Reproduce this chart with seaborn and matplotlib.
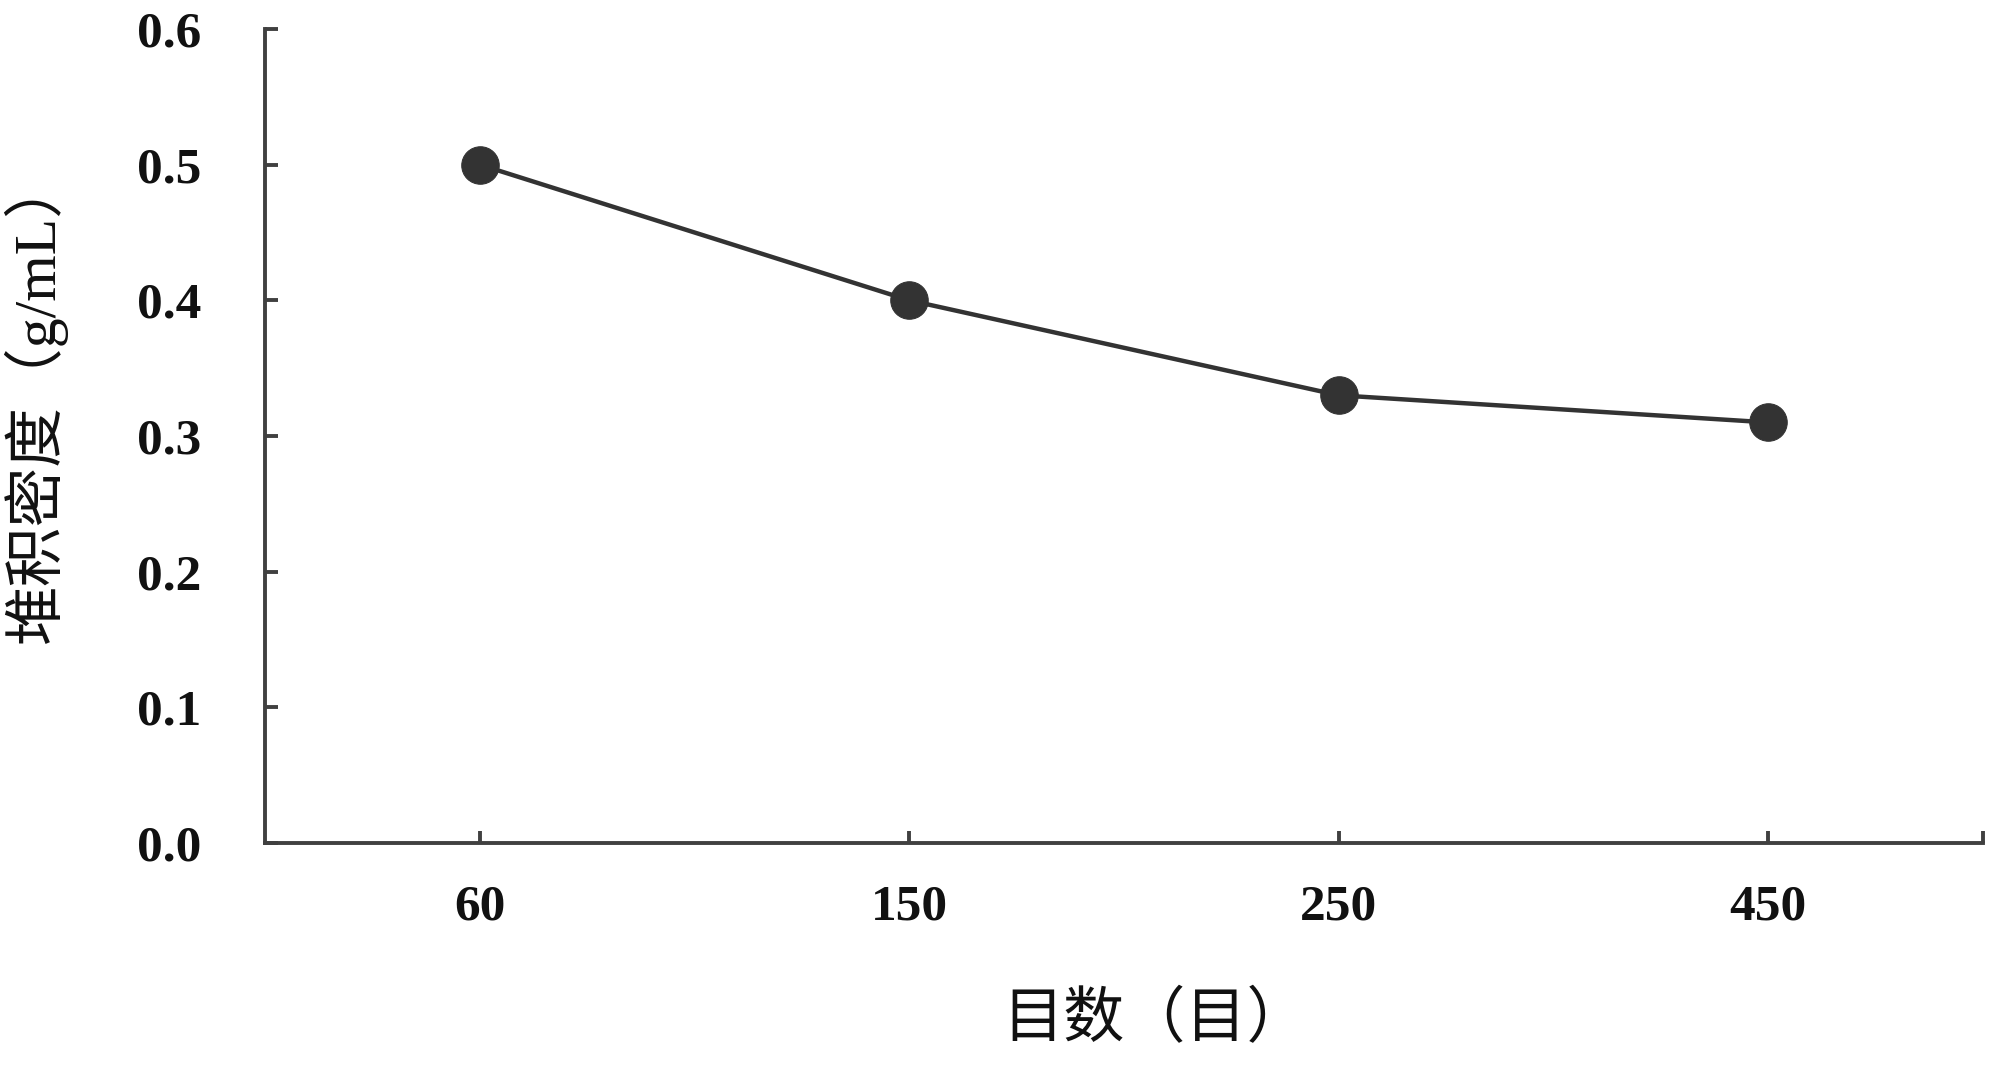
import pandas as pd
import matplotlib
matplotlib.use("Agg")
import matplotlib.pyplot as plt
import seaborn as sns

# data
mesh = ["60", "150", "250", "450"]
density = [0.50, 0.40, 0.33, 0.31]

y_ticks = [0.0, 0.1, 0.2, 0.3, 0.4, 0.5, 0.6]

sns.set_style("ticks")
plt.rcParams['font.family'] = ['Liberation Serif', 'Noto Sans CJK SC']

df = pd.DataFrame({"pos": range(len(mesh)), "density": density})

fig = plt.figure(figsize=(20, 10.69), dpi=100)
ax = fig.add_axes([0.1325, 0.2114, 0.859, 0.7615])

ink = "#333333"
sns.lineplot(data=df, x="pos", y="density", ax=ax, color=ink, linewidth=3.2,
             marker="o", markersize=27, markeredgecolor=ink, markerfacecolor=ink)

ax.set_xlim(-0.5, 3.5)
ax.set_ylim(0, 0.6)

ax.set_xticks(list(range(len(mesh))) + [3.5])
ax.set_xticklabels(mesh + [""])
ax.set_yticks(y_ticks)
ax.set_yticklabels([f"{v:.1f}" for v in y_ticks])

for lab in ax.get_xticklabels() + ax.get_yticklabels():
    lab.set_fontweight("bold")
    lab.set_fontsize(37)
    lab.set_color("#111111")

ax.tick_params(axis="both", direction="in", length=9, width=2.8, color="#404040")
ax.tick_params(axis="x", pad=30)
ax.tick_params(axis="y", pad=46)

sns.despine(ax=ax)
for s in ["left", "bottom"]:
    ax.spines[s].set_linewidth(2.8)
    ax.spines[s].set_color("#404040")

ax.set_xlabel("目数（目）", fontsize=44, color="#111111",
              family=['Noto Sans CJK SC'])
ax.set_ylabel("堆积密度（g/mL）", fontsize=43, color="#111111",
              family=['Liberation Serif', 'Noto Sans CJK SC'])
ax.xaxis.label.set_va("center")
ax.yaxis.label.set_va("center")
ax.xaxis.set_label_coords(0.518, -0.217)
ax.yaxis.set_label_coords(-0.134, 0.545)

fig.savefig("out.png", dpi=100, facecolor="white")
